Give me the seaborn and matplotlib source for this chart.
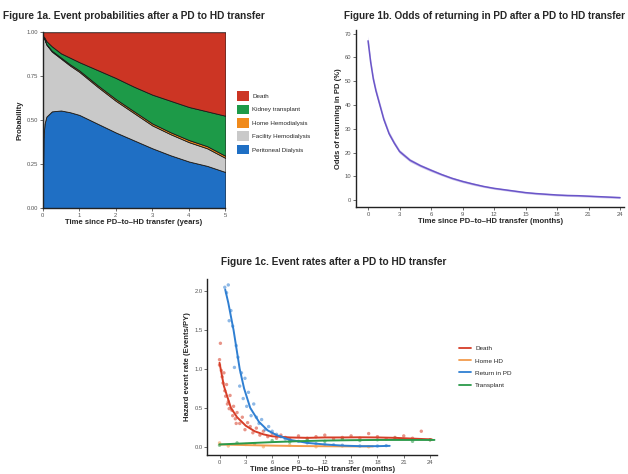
import numpy as np
import pandas as pd
import seaborn as sns
import matplotlib.pyplot as plt
from matplotlib.patches import Patch
from matplotlib.lines import Line2D

# ---------------- data: figure 1a (stacked probabilities, years) ----------------
years = [0, 0.02, 0.05, 0.1, 0.25, 0.5, 0.75, 1, 1.5, 2, 2.5, 3, 3.5, 4, 4.5, 5]
p_pd = [0, 0.40, 0.48, 0.52, 0.55, 0.555, 0.545, 0.53, 0.48, 0.43, 0.385, 0.34, 0.30, 0.265, 0.24, 0.205]
p_fhd = [1.0, 0.57, 0.48, 0.41, 0.34, 0.295, 0.265, 0.245, 0.21, 0.18, 0.155, 0.13, 0.12, 0.11, 0.10, 0.08]
p_hhd = [0, 0.001, 0.002, 0.003, 0.005, 0.006, 0.007, 0.008, 0.009, 0.01, 0.01, 0.011, 0.011, 0.012, 0.012, 0.012]
p_kt = [0, 0.004, 0.008, 0.017, 0.025, 0.024, 0.038, 0.047, 0.086, 0.12, 0.14, 0.164, 0.179, 0.188, 0.198, 0.228]
p_death = [0, 0.025, 0.03, 0.05, 0.08, 0.12, 0.145, 0.17, 0.215, 0.26, 0.31, 0.355, 0.39, 0.425, 0.45, 0.475]
states = ["Peritoneal Dialysis", "Facility Hemodialysis", "Home Hemodialysis", "Kidney transplant", "Death"]
state_cols = ["#1f6fc4", "#c9c9c9", "#f08a1c", "#1d9a48", "#cc3524"]

# ---------------- data: figure 1b (odds of returning to PD, months) ----------------
odds_m = [0, 0.25, 0.5, 0.75, 1, 1.5, 2, 2.5, 3, 4, 5, 6, 7, 8, 9, 10, 11, 12,
          13, 14, 15, 16, 17, 18, 19, 20, 21, 22, 23, 24]
odds = [67, 58, 51, 46, 42, 34, 28, 24, 20.5, 16.8, 14.5, 12.6, 10.8, 9.2, 7.9, 6.8, 5.8, 5.0,
        4.4, 3.8, 3.2, 2.8, 2.5, 2.2, 2.0, 1.9, 1.7, 1.5, 1.3, 1.1]
odds_lo = [65, 56.5, 49.6, 44.7, 40.8, 32.9, 27, 23.1, 19.7, 16.1, 13.9, 12.0, 10.3, 8.7, 7.4, 6.3, 5.4, 4.6,
           4.0, 3.4, 2.8, 2.4, 2.1, 1.8, 1.6, 1.5, 1.3, 1.1, 0.9, 0.7]
odds_hi = [69, 59.5, 52.4, 47.3, 43.2, 35.1, 29, 24.9, 21.3, 17.5, 15.1, 13.2, 11.3, 9.7, 8.4, 7.3, 6.2, 5.4,
           4.8, 4.2, 3.6, 3.2, 2.9, 2.6, 2.4, 2.3, 2.1, 1.9, 1.7, 1.5]

# ---------------- data: figure 1c (event rates, months) ----------------
death_t = [0, 0.5, 1.3, 2, 3, 4, 5, 6, 8, 10, 12, 14, 16, 18, 20, 22, 24.2]
death_v = [1.08, 0.78, 0.50, 0.38, 0.27, 0.20, 0.16, 0.135, 0.12, 0.115, 0.12, 0.12, 0.122, 0.12, 0.115, 0.105, 0.095]
rpd_t = [0.65, 1.0, 1.6, 2.3, 2.8, 3.5, 4.5, 5.5, 6.5, 8, 10, 12, 14, 16, 18, 19.4]
rpd_v = [2.02, 1.85, 1.50, 1.00, 0.75, 0.50, 0.32, 0.21, 0.15, 0.09, 0.05, 0.03, 0.015, 0.008, 0.008, 0.012]
tx_t = [0, 3, 6, 9, 12, 15, 18, 21, 24.5]
tx_v = [0.03, 0.045, 0.06, 0.072, 0.08, 0.085, 0.088, 0.088, 0.088]
hhd_t = [0, 3, 6, 9, 12, 15, 17.5]
hhd_v = [0.03, 0.022, 0.015, 0.01, 0.007, 0.005, 0.005]

death_pt_t = [0, 0, 0.1, 0.2, 0.3, 0.4, 0.5, 0.6, 0.7, 0.8, 0.9, 1.0, 1.1, 1.2, 1.4, 1.5, 1.6, 1.8, 1.9, 2.0,
              2.3, 2.6, 2.9, 3.2, 3.5, 3.8, 4.2, 4.6, 5.0, 5.5, 6.0, 6.5, 7, 7.5, 8, 9, 10, 11, 12, 13, 14,
              15, 16, 17, 18, 19, 20, 21, 22, 23, 24]
death_pt_v = [1.12, 1.05, 1.33, 0.98, 0.90, 0.82, 0.95, 0.72, 0.65, 0.80, 0.55, 0.58, 0.49, 0.66, 0.47, 0.40,
              0.52, 0.36, 0.30, 0.44, 0.30, 0.38, 0.22, 0.31, 0.26, 0.18, 0.24, 0.15, 0.20, 0.13, 0.17, 0.11,
              0.15, 0.12, 0.10, 0.14, 0.11, 0.13, 0.15, 0.10, 0.12, 0.14, 0.11, 0.17, 0.13, 0.10, 0.12, 0.14,
              0.11, 0.20, 0.09]
rpd_pt_t = [0.6, 0.8, 1.0, 1.1, 1.3, 1.5, 1.7, 1.9, 2.1, 2.3, 2.5, 2.7, 2.9, 3.1, 3.3, 3.6, 3.9, 4.2, 4.5, 4.8,
            5.2, 5.6, 6.0, 6.5, 7.0, 7.5, 8, 9, 10, 11, 12, 13, 14, 16, 18, 19]
rpd_pt_v = [2.05, 1.98, 2.08, 1.62, 1.75, 1.55, 1.02, 1.30, 1.15, 0.78, 0.95, 0.62, 0.88, 0.52, 0.70, 0.40, 0.55,
            0.38, 0.30, 0.35, 0.22, 0.26, 0.20, 0.16, 0.13, 0.10, 0.09, 0.07, 0.05, 0.04, 0.03, 0.025, 0.02, 0.01,
            0.01, 0.015]
tx_pt_t = [0, 2, 4, 6, 8, 10, 12, 14, 16, 18, 20, 22, 24]
tx_pt_v = [0.02, 0.05, 0.04, 0.08, 0.06, 0.09, 0.07, 0.10, 0.08, 0.09, 0.11, 0.07, 0.09]
hhd_pt_t = [0, 1, 3, 5, 8, 11, 14, 17]
hhd_pt_v = [0.05, 0.01, 0.03, 0.0, 0.02, 0.0, 0.01, 0.0]

events = ["Death", "Home HD", "Return in PD", "Transplant"]
ev_cols = {"Death": "#d63d27", "Home HD": "#f29b4c", "Return in PD": "#2f7fd2", "Transplant": "#2b9a4a"}

sns.set_theme(style="white")
plt.rcParams['font.family'] = ['Liberation Sans', 'DejaVu Sans']

fig = plt.figure(figsize=(6.28, 4.74), dpi=100)


def style_axes(ax):
    for s in ["top", "right"]:
        ax.spines[s].set_visible(False)
    for s in ["left", "bottom"]:
        ax.spines[s].set_color("#222222")
        ax.spines[s].set_linewidth(1.0)
    ax.tick_params(axis="both", which="both", direction="out", length=2, width=0.6,
                   labelsize=4.2, colors="#555555", pad=1.5, bottom=True, left=True)
    ax.grid(False)


# ================== Figure 1a ==================
ax1 = fig.add_axes([0.068, 0.561, 0.291, 0.371])
ax1.stackplot(years, p_pd, p_fhd, p_hhd, p_kt, p_death, colors=state_cols,
              edgecolor="#1a1a1a", linewidth=0.6)
ax1.set_xlim(0, 5)
ax1.set_ylim(0, 1)
ax1.set_yticks([0, 0.25, 0.5, 0.75, 1.0])
ax1.set_yticklabels(["0.00", "0.25", "0.50", "0.75", "1.00"])
ax1.set_xticks(range(6))
style_axes(ax1)
ax1.set_xlabel("Time since PD–to–HD transfer (years)", fontsize=5.5, fontweight="bold", labelpad=1)
ax1.set_ylabel("Probability", fontsize=5.5, fontweight="bold", labelpad=2)
fig.text(0.005, 0.966, "Figure 1a. Event probabilities after a PD to HD transfer",
         fontsize=7.3, fontweight="bold", ha="left", va="center")
leg_handles = [Patch(facecolor=c, edgecolor="none") for c in state_cols[::-1]]
fig.legend(leg_handles, states[::-1], loc="center left", bbox_to_anchor=(0.372, 0.741),
           frameon=False, fontsize=4.5, handlelength=1.9, handleheight=2.0,
           labelspacing=0.6, handletextpad=0.6, borderpad=0)

# ================== Figure 1b ==================
ax2 = fig.add_axes([0.567, 0.563, 0.427, 0.373])
odds_df = pd.DataFrame({"month": odds_m, "odds": odds})
ax2.fill_between(odds_m, odds_lo, odds_hi, color="#b9aee6", alpha=0.7, linewidth=0)
sns.lineplot(data=odds_df, x="month", y="odds", ax=ax2, color="#6a55c8", linewidth=1.1)
ax2.set_xlim(-1.14, 24.4)
ax2.set_ylim(-2.9, 71.4)
ax2.set_xticks(range(0, 25, 3))
ax2.set_yticks(range(0, 71, 10))
style_axes(ax2)
ax2.set_xlabel("Time since PD–to–HD transfer (months)", fontsize=5.5, fontweight="bold", labelpad=1)
ax2.set_ylabel("Odds of returning in PD (%)", fontsize=5.5, fontweight="bold", labelpad=2)
fig.text(0.996, 0.966, "Figure 1b. Odds of returning in PD after a PD to HD transfer",
         fontsize=7.2, fontweight="bold", ha="right", va="center")

# ================== Figure 1c ==================
ax3 = fig.add_axes([0.330, 0.040, 0.366, 0.372])
curves = pd.concat([
    pd.DataFrame({"month": death_t, "rate": death_v, "event": "Death"}),
    pd.DataFrame({"month": hhd_t, "rate": hhd_v, "event": "Home HD"}),
    pd.DataFrame({"month": rpd_t, "rate": rpd_v, "event": "Return in PD"}),
    pd.DataFrame({"month": tx_t, "rate": tx_v, "event": "Transplant"}),
])
points = pd.concat([
    pd.DataFrame({"month": death_pt_t, "rate": death_pt_v, "event": "Death"}),
    pd.DataFrame({"month": hhd_pt_t, "rate": hhd_pt_v, "event": "Home HD"}),
    pd.DataFrame({"month": rpd_pt_t, "rate": rpd_pt_v, "event": "Return in PD"}),
    pd.DataFrame({"month": tx_pt_t, "rate": tx_pt_v, "event": "Transplant"}),
])
sns.scatterplot(data=points, x="month", y="rate", hue="event", palette=ev_cols, ax=ax3,
                s=6, alpha=0.55, linewidth=0, legend=False)
sns.lineplot(data=curves, x="month", y="rate", hue="event", palette=ev_cols, ax=ax3,
             linewidth=1.4, legend=False, sort=True)
ax3.set_xlim(-1.4, 24.8)
ax3.set_ylim(-0.106, 2.16)
ax3.set_xticks(range(0, 25, 3))
ax3.set_yticks([0, 0.5, 1.0, 1.5, 2.0])
ax3.set_yticklabels(["0.0", "0.5", "1.0", "1.5", "2.0"])
style_axes(ax3)
ax3.set_xlabel("Time since PD–to–HD transfer (months)", fontsize=5.5, fontweight="bold", labelpad=1)
ax3.set_ylabel("Hazard event rate (Events/PY)", fontsize=5.5, fontweight="bold", labelpad=2)
fig.text(0.532, 0.447, "Figure 1c. Event rates after a PD to HD transfer",
         fontsize=7.3, fontweight="bold", ha="center", va="center")
ev_handles = [Line2D([0], [0], color=ev_cols[e], linewidth=1.3) for e in events]
fig.legend(ev_handles, events, loc="center left", bbox_to_anchor=(0.726, 0.226),
           frameon=False, fontsize=4.6, handlelength=1.9, labelspacing=1.05,
           handletextpad=0.6, borderpad=0)

fig.savefig("out.png", dpi=100, facecolor="white")
